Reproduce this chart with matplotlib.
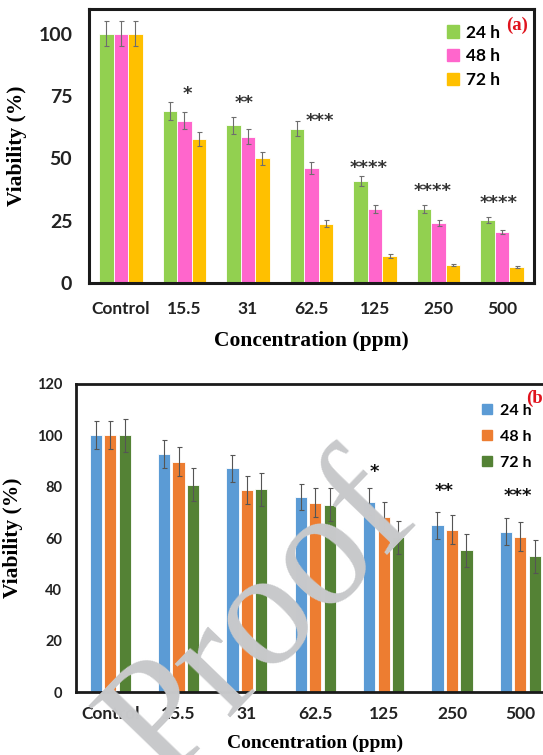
import numpy as np
import matplotlib.pyplot as plt
from matplotlib.patches import Patch

# concentrations tested (ppm)
categories = ["Control", "15.5", "31", "62.5", "125", "250", "500"]
times = ["24 h", "48 h", "72 h"]

# panel (a) viability (%) and SD
a_24 = [100, 69.0, 63.3, 62.0, 41.0, 29.7, 25.2]
a_48 = [100, 65.2, 58.8, 46.2, 29.8, 24.1, 20.5]
a_72 = [100, 57.8, 50.0, 23.8, 10.8, 7.2, 6.5]
a_24_err = [5.0, 3.6, 3.4, 2.9, 2.0, 1.6, 1.3]
a_48_err = [5.0, 3.5, 3.0, 2.3, 1.6, 1.3, 0.9]
a_72_err = [5.0, 2.8, 2.5, 1.5, 0.7, 0.4, 0.3]
a_stars = ["", "*", "**", "***", "****", "****", "****"]
a_star_y = [0, 75.9, 72.3, 65.2, 46.3, 36.8, 32.2]
a_star_dx = [0, 0.05, -0.06, 0.13, -0.1, -0.09, -0.06]

# panel (b) viability (%) and SD
b_24 = [100, 92.6, 87.1, 76.0, 74.1, 64.9, 62.5]
b_48 = [100, 89.7, 78.6, 73.7, 68.3, 63.2, 60.5]
b_72 = [100, 80.7, 78.9, 73.0, 60.2, 55.3, 52.8]
b_24_err = [5.5, 5.4, 5.3, 5.2, 5.2, 5.4, 5.4]
b_48_err = [5.5, 5.6, 5.5, 5.6, 5.7, 5.6, 5.6]
b_72_err = [6.5, 6.4, 6.4, 6.5, 6.6, 6.4, 6.4]
b_stars = ["", "", "", "", "*", "**", "***"]
b_star_y = [0, 0, 0, 0, 85.6, 78.2, 76.2]
b_star_dx = [0, 0, 0, 0, -0.14, -0.12, -0.03]

a_colors = ["#92d050", "#ff66cc", "#ffc000"]
b_colors = ["#5b9bd5", "#ed7d31", "#548235"]

sans = "Lato"
serif = "Liberation Serif"


def draw_panel(ax, series, errs, colors, step, width, ecolor):
    x = np.arange(len(categories))
    for k, (vals, err, c) in enumerate(zip(series, errs, colors)):
        ax.bar(x + (k - 1) * step, vals, width, color=c, edgecolor="white",
               linewidth=0.6, label=times[k], zorder=2)
        ax.errorbar(x + (k - 1) * step, vals, yerr=err, fmt="none",
                    ecolor=ecolor, elinewidth=0.8, capsize=1.8,
                    capthick=0.8, zorder=3)
    ax.set_xticks(x)
    ax.tick_params(length=0)
    ax.set_xlim(-0.5, len(categories) - 0.5)


def style_yticks(ax, size):
    for lab in ax.get_yticklabels():
        lab.set_fontsize(size)
        lab.set_fontweight("bold")
        lab.set_family(sans)
        lab.set_color("#222222")


fig = plt.figure(figsize=(5.43, 7.55), dpi=100)

# ---------- (a) ----------
ax1 = fig.add_axes([0.1639, 0.6252, 0.8195, 0.3629])
draw_panel(ax1, [a_24, a_48, a_72], [a_24_err, a_48_err, a_72_err],
           a_colors, 0.229, 0.229, "#6e6e6e")
ax1.set_ylim(0, 110)
ax1.set_yticks([0, 25, 50, 75, 100])
ax1.set_xticklabels(categories, fontsize=12.5, fontweight="bold", family=sans,
                    color="#222222")
ax1.tick_params(axis="x", pad=13)
ax1.tick_params(axis="y", pad=12)
style_yticks(ax1, 14)
for s in ax1.spines.values():
    s.set_linewidth(2.2)
    s.set_color("#1a1a1a")
ax1.set_xlabel("Concentration (ppm)", fontsize=15.5, fontweight="bold",
               family=serif, labelpad=10)
ax1.set_ylabel("Viability (%)", fontsize=15.5, fontweight="bold",
               family=serif, labelpad=8)
for i, s in enumerate(a_stars):
    if s:
        ax1.text(i + a_star_dx[i], a_star_y[i], s, ha="center", va="center",
                 fontsize=13, fontweight="bold", color="#333333",
                 family="DejaVu Sans")
ax1.legend(handles=[Patch(color=c, label=t) for c, t in zip(a_colors, times)],
           loc="upper left", bbox_to_anchor=(0.785, 0.975), frameon=False,
           handlelength=0.7, handleheight=0.7, handletextpad=0.4,
           labelspacing=0.45, borderpad=0,
           prop={"family": sans, "weight": "bold", "size": 12.5})
fig.text(517 / 543, 1 - 25 / 755, "(a)", color="#e0141e", fontsize=13.5,
         fontweight="bold", family=serif, ha="center", va="center")

# ---------- (b) ----------
ax2 = fig.add_axes([0.14, 0.0834, 0.8812, 0.408])
draw_panel(ax2, [b_24, b_48, b_72], [b_24_err, b_48_err, b_72_err],
           b_colors, 0.212, 0.178, "#555555")
ax2.set_ylim(0, 120)
ax2.set_yticks(np.arange(0, 121, 20))
ax2.set_xticklabels(categories, fontsize=12.5, fontweight="bold", family=sans,
                    color="#222222")
ax2.tick_params(axis="x", pad=10)
ax2.tick_params(axis="y", pad=10)
style_yticks(ax2, 10.5)
for s in ax2.spines.values():
    s.set_linewidth(2.0)
    s.set_color("#1a1a1a")
ax2.set_xlabel("Concentration (ppm)", fontsize=14, fontweight="bold",
               family=serif, labelpad=9)
ax2.set_ylabel("Viability (%)", fontsize=15.5, fontweight="bold",
               family=serif, labelpad=10)
for i, s in enumerate(b_stars):
    if s:
        ax2.text(i + b_star_dx[i], b_star_y[i], s, ha="center", va="center",
                 fontsize=13, fontweight="bold", color="#111111",
                 family="DejaVu Sans")
ax2.legend(handles=[Patch(color=c, label=t) for c, t in zip(b_colors, times)],
           loc="upper left", bbox_to_anchor=(0.832, 0.962), frameon=False,
           handlelength=0.65, handleheight=0.65, handletextpad=0.5,
           labelspacing=0.75, borderpad=0,
           prop={"family": sans, "weight": "bold", "size": 11.5})
fig.text(526 / 543, 1 - 398 / 755, "(b)", color="#e0141e", fontsize=13.5,
         fontweight="bold", family=serif, ha="left", va="center")

# grey watermark across the lower panel
fig.text(262 / 543, 1 - 621 / 755, "Proof", rotation=46, fontsize=120,
         family=serif, color="#c8c9cb", ha="center", va="center",
         rotation_mode="anchor", zorder=10)

fig.savefig("out.png", dpi=100)
